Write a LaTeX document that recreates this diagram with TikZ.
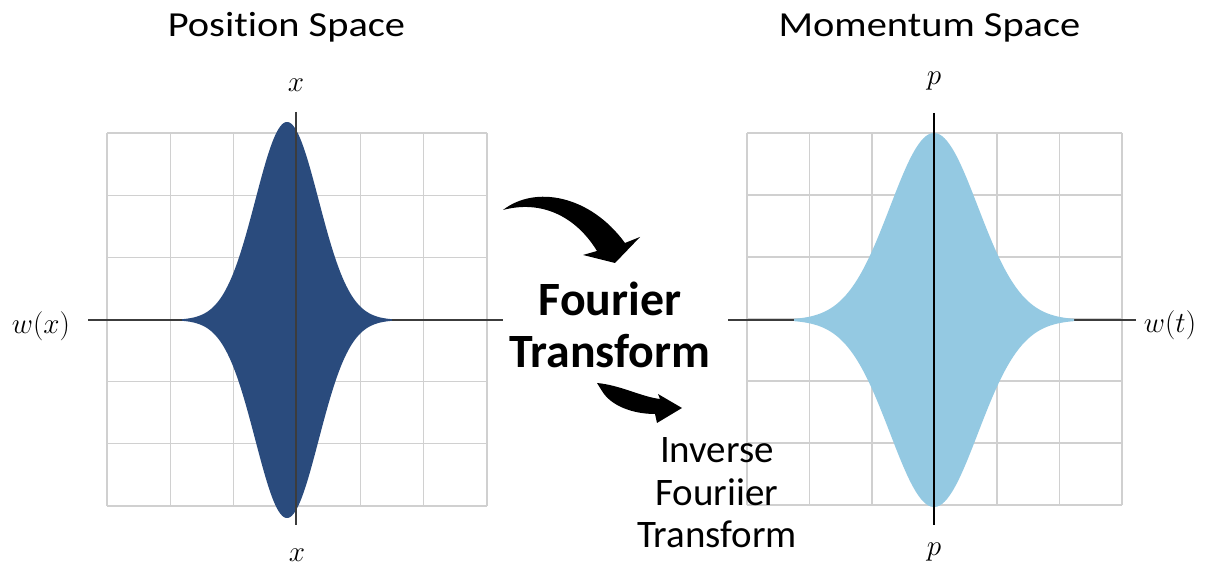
\documentclass[tikz,border=0pt]{standalone}
\usepackage{fontspec}
\newfontfamily\labelfont[Ligatures=NoCommon]{Carlito}
\newfontfamily\titlefont[FakeStretch=1.15, Ligatures=NoCommon]{Carlito}
\usetikzlibrary{positioning}
\definecolor{posblue}{RGB}{42,75,125}
\definecolor{momblue}{RGB}{148,201,226}
\definecolor{gridgray}{RGB}{208,208,208}
\definecolor{axisgray}{RGB}{60,60,60}

\begin{document}
\begin{tikzpicture}[
    x=0.025cm, y=-0.025cm,
    gridline/.style={draw=gridgray, line width=0.9pt},
    axis/.style={draw=axisgray, line width=1.1pt},
    title/.style={font=\titlefont\fontsize{25}{30}\selectfont, anchor=base},
    axlabel/.style={font=\fontsize{21}{25}\selectfont, anchor=base, inner sep=0pt},
    ftlabel/.style={font=\labelfont\bfseries\fontsize{34}{37.6}\selectfont,
        align=center, anchor=base},
    iftlabel/.style={font=\labelfont\fontsize{27.7}{30.5}\selectfont,
        align=center, anchor=base},
    bigarrow/.style={fill=black}
  ]
  \useasboundingbox[fill=white] (0,0) rectangle (1206,569);

  % the two grids
  \foreach \i in {0,...,6} {
    \draw[gridline] ({107+\i*380/6},133) -- ({107+\i*380/6},506);
    \draw[gridline] (107,{133+\i*373/6}) -- (487,{133+\i*373/6});
    \draw[gridline] ({747+\i*375/6},133) -- ({747+\i*375/6},505);
    \draw[gridline] (747,{133+\i*372/6}) -- (1122,{133+\i*372/6});
  }

  % axis ends
  \coordinate (posL) at (88,320);
  \coordinate (posR) at (503,320);
  \coordinate (posT) at (296,112);
  \coordinate (posB) at (296,525);
  \coordinate (momL) at (728,320);
  \coordinate (momR) at (1136,320);
  \coordinate (momT) at (934,113);
  \coordinate (momB) at (934,525);

  \draw[axis] (posL) -- (posR);
  \draw[axis] (momL) -- (momR);

  % wave packets
  \fill[posblue] plot[domain=-1.05:1.05, samples=120, smooth]
      ({287+100*\x}, {320-198*exp(-(\x*\x)/0.2)})
    -- plot[domain=1.05:-1.05, samples=120, smooth]
      ({287+100*\x}, {320+198*exp(-(\x*\x)/0.2)}) -- cycle;
  \fill[momblue] plot[domain=-1.4:1.4, samples=120, smooth]
      ({934+100*\x}, {320-187*exp(-(\x*\x)/0.385)})
    -- plot[domain=1.4:-1.4, samples=120, smooth]
      ({934+100*\x}, {320+187*exp(-(\x*\x)/0.385)}) -- cycle;

  \draw[axis] (posT) -- (posB);
  \draw[axis, draw=black] (momT) -- (momB);

  % labels
  \node[title] (postitle) at (286.5,37) {Position Space};
  \node[title] (momtitle) at (929.5,37) {Momentum Space};

  \node[axlabel] (xtop) at (296,92) {$x$};
  \node[axlabel] (xbot) at (297,562) {$x$};
  \node[axlabel] (ptop) at (934,85) {$p$};
  \node[axlabel] (pbot) at (934,556) {$p$};
  \node[axlabel] (wx) at (41,334) {$w(x)$};
  \node[axlabel] (wt) at (1170,333) {$w(t)$};

  % base sits on the last line
  \node[ftlabel] (ft) at (610,368) {Fourier\\Transform};
  \node[iftlabel] (ift) at (717,548) {Inverse\\Fouriier\\Transform};

  % curved arrows
  \coordinate (fwdtail) at (503,210);
  \coordinate (fwdtip) at (615,263);
  \coordinate (invtail) at (597,383);
  \coordinate (invtip) at (682,408);

  \fill[bigarrow] (fwdtail) .. controls (535,185) and (590,195) .. (625,243)
    -- (640,237) -- (fwdtip) -- (583,255) -- (597,251)
    .. controls (575,215) and (540,200) .. (fwdtail) -- cycle;
  \fill[bigarrow] (invtail) .. controls (620,385) and (642,397) .. (660,399)
    -- (658,394) -- (invtip) -- (657,423) -- (655,414)
    .. controls (633,414) and (611,406) .. (602,391) -- cycle;
\end{tikzpicture}
\end{document}
